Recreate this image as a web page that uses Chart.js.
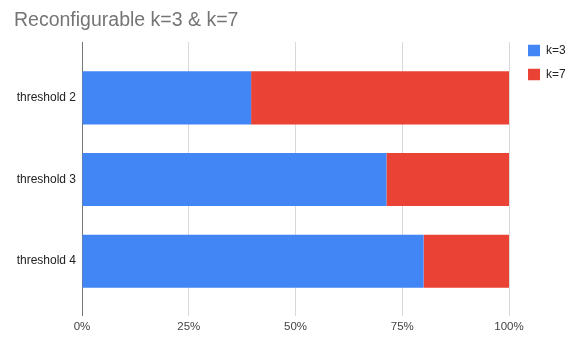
<!DOCTYPE html>
<html>
<head>
<meta charset="utf-8">
<script src="https://cdn.jsdelivr.net/npm/chart.js@4/dist/chart.umd.min.js"></script>
<style>
  html, body { margin: 0; padding: 0; background: #ffffff; }
  canvas { display: block; }
</style>
</head>
<body>
<canvas id="c" width="580" height="358"></canvas>
<script>
const categories = ['threshold 2', 'threshold 3', 'threshold 4'];
const seriesNames = ['k=3', 'k=7'];
const k3Values = [39.6, 71.3, 80.0];
const k7Values = [60.4, 28.7, 20.0];
const xTickValues = [0, 25, 50, 75, 100];
const titleText = 'Reconfigurable k=3 & k=7';

const FONT = "'Liberation Sans', Arial, sans-serif";
const gridColor = (ctx) => (ctx.tick && ctx.tick.value === 0) ? '#767676' : '#d9d9d9';

const bgPlugin = {
  id: 'bg',
  beforeDraw(chart) {
    const c = chart.ctx;
    c.save();
    c.fillStyle = '#ffffff';
    c.fillRect(0, 0, chart.width, chart.height);
    c.restore();
  }
};

new Chart(document.getElementById('c'), {
  type: 'bar',
  data: {
    labels: categories,
    datasets: [
      { label: seriesNames[0], data: k3Values, backgroundColor: '#4285F4', borderWidth: 0,
        categoryPercentage: 1, barPercentage: 0.65, xAxisID: 'x', yAxisID: 'y' },
      { label: seriesNames[1], data: k7Values, backgroundColor: '#EA4335', borderWidth: 0,
        categoryPercentage: 1, barPercentage: 0.65, xAxisID: 'x', yAxisID: 'y' }
    ]
  },
  options: {
    indexAxis: 'y',
    responsive: false,
    animation: false,
    layout: { padding: { left: 14, right: 4.3, top: 0, bottom: 0 } },
    scales: {
      x: {
        type: 'linear', position: 'bottom', stacked: true,
        min: 0, max: 100,
        afterBuildTicks(scale) { scale.ticks = xTickValues.map(v => ({ value: v })); },
        afterFit(scale) { scale.height = 56; },
        grid: { display: true, drawOnChartArea: true, drawTicks: true, tickLength: 14, color: gridColor, lineWidth: 1 },
        border: { display: false },
        ticks: { padding: 4, color: '#444444', font: { family: FONT, size: 11.5 },
          callback: (v) => v + '%' }
      },
      xTop: {
        type: 'linear', position: 'top',
        min: 0, max: 100,
        afterBuildTicks(scale) { scale.ticks = xTickValues.map(v => ({ value: v })); },
        afterFit(scale) { scale.height = 15; },
        grid: { display: true, drawOnChartArea: false, drawTicks: true, tickLength: 15, color: gridColor, lineWidth: 1 },
        border: { display: false },
        ticks: { display: false }
      },
      y: {
        type: 'category', position: 'left', stacked: true, z: 1,
        afterFit(scale) { scale.width = 68; },
        grid: { display: false, drawTicks: false },
        border: { display: true, color: '#767676', width: 1 },
        ticks: { padding: 6, color: '#222222', font: { family: FONT, size: 12 } }
      },
      gap: {
        type: 'linear', position: 'right',
        afterFit(scale) { scale.width = 7; },
        grid: { display: false, drawTicks: false },
        border: { display: false },
        ticks: { display: false }
      }
    },
    plugins: {
      title: {
        display: true, text: titleText, align: 'start', position: 'top',
        color: '#757575', font: { family: FONT, size: 19.5, weight: 'normal' },
        padding: { top: 9, bottom: 9.6 }
      },
      legend: {
        display: true, position: 'right', align: 'start', fullSize: true,
        title: { display: true, text: ' ', font: { family: FONT, size: 10 }, padding: { top: 10.5, bottom: 10 } },
        labels: { boxWidth: 12, boxHeight: 11.5, padding: 12, color: '#222222', font: { family: FONT, size: 12 } }
      },
      tooltip: { enabled: false }
    }
  },
  plugins: [bgPlugin]
});
</script>
</body>
</html>
